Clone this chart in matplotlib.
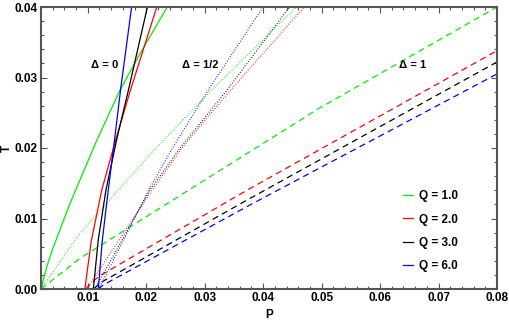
import matplotlib
matplotlib.use("Agg")
import matplotlib.pyplot as plt
from matplotlib.ticker import MultipleLocator

plt.rcParams['font.family'] = ['Liberation Sans', 'DejaVu Sans']

# ---- data ----
charges = ["Q = 1.0", "Q = 2.0", "Q = 3.0", "Q = 6.0"]
colors = ["#00ee00", "#ff0000", "#000000", "#0000ff"]

# Delta = 0 (solid)
solid_P = [
    [0.002, 0.0030, 0.0040, 0.00525, 0.0068, 0.00867, 0.0115, 0.0155, 0.0195, 0.0236],
    [0.0095, 0.0106, 0.01238, 0.0149, 0.0173, 0.0218],
    [0.01095, 0.0118, 0.0131, 0.0150, 0.01695, 0.0202],
    [0.0118, 0.0125, 0.0135, 0.0146, 0.0156, 0.0175],
]
solid_T = [
    [0.0, 0.0032, 0.0057, 0.0084, 0.0118, 0.0155, 0.0210, 0.0282, 0.0342, 0.040],
    [0.0, 0.0068, 0.0140, 0.0215, 0.0282, 0.040],
    [0.0, 0.0070, 0.0140, 0.0214, 0.0282, 0.040],
    [0.0, 0.0070, 0.0140, 0.0213, 0.0282, 0.040],
]

# Delta = 1/2 (dotted)
dotted_P = [
    [0.002, 0.00867, 0.0212, 0.0312, 0.0457],
    [0.0098, 0.0210, 0.0261, 0.0344, 0.0470],
    [0.0112, 0.0206, 0.0258, 0.0338, 0.0445],
    [0.0119, 0.0204, 0.0245, 0.0306, 0.0400],
]
dotted_T = [
    [0.0, 0.0079, 0.0196, 0.0282, 0.040],
    [0.0, 0.0140, 0.0200, 0.0282, 0.040],
    [0.0, 0.0140, 0.0200, 0.0282, 0.040],
    [0.0, 0.0140, 0.0200, 0.0282, 0.040],
]

# Delta = 1 (dashed)
dashed_P = [
    [0.002, 0.00867, 0.0372, 0.0497, 0.080],
    [0.0096, 0.0118, 0.0372, 0.080],
    [0.0110, 0.0122, 0.0372, 0.080],
    [0.0118, 0.01265, 0.0377, 0.080],
]
dashed_T = [
    [0.0, 0.00435, 0.0192, 0.0257, 0.040],
    [0.0, 0.00175, 0.0140, 0.0338],
    [0.0, 0.0009, 0.0126, 0.0322],
    [0.0, 0.00057, 0.0119, 0.0305],
]

x_ticks = [0.01, 0.02, 0.03, 0.04, 0.05, 0.06, 0.07, 0.08]
y_ticks = [0.00, 0.01, 0.02, 0.03, 0.04]
annotations = [("Δ = 0", 0.0129, 0.0318), ("Δ = 1/2", 0.0292, 0.0318), ("Δ = 1", 0.0655, 0.0318)]

# ---- figure ----
fig = plt.figure(figsize=(5.10, 3.21), dpi=100)
ax = fig.add_axes([41/510, 32/321, 456/510, 282/321])

for i in range(4):
    ax.plot(solid_P[i], solid_T[i], color=colors[i], lw=0.9, label=charges[i])
    ax.plot(dotted_P[i], dotted_T[i], color=colors[i], lw=0.8, ls=(0, (0.8, 1.6)))
    ax.plot(dashed_P[i], dashed_T[i], color=colors[i], lw=0.9, ls=(0, (5, 3.5)))

for txt, x, y in annotations:
    ax.text(x, y, txt, fontsize=8, fontweight='bold', ha='center', va='center')

ax.set_xlim(0.002, 0.08)
ax.set_ylim(0.0, 0.04)
ax.set_xticks(x_ticks)
ax.set_yticks(y_ticks)
ax.set_xticklabels([f"{v:.2f}" for v in x_ticks])
ax.set_yticklabels([f"{v:.2f}" for v in y_ticks])
ax.xaxis.set_minor_locator(MultipleLocator(0.002))
ax.yaxis.set_minor_locator(MultipleLocator(0.002))
ax.tick_params(which='both', direction='in', top=True, right=True, colors='#555555',
               labelcolor='black', labelsize=8.5, width=0.8, pad=2.5)
ax.tick_params(which='major', length=4)
ax.tick_params(which='minor', length=2)
for lab in ax.get_xticklabels() + ax.get_yticklabels():
    lab.set_fontweight('bold')
for s in ax.spines.values():
    s.set_color('#555555')
    s.set_linewidth(1.5)

ax.set_xlabel("P", fontsize=8.5, fontweight='bold', labelpad=3)
ax.set_ylabel("T", fontsize=8.5, fontweight='bold', labelpad=1)

leg = ax.legend(loc='center left', bbox_to_anchor=(0.77, 0.205), frameon=False,
                fontsize=8.5, handlelength=0.9, handletextpad=0.5, labelspacing=0.95)
for t in leg.get_texts():
    t.set_fontweight('bold')

fig.savefig("out.png", dpi=100)
